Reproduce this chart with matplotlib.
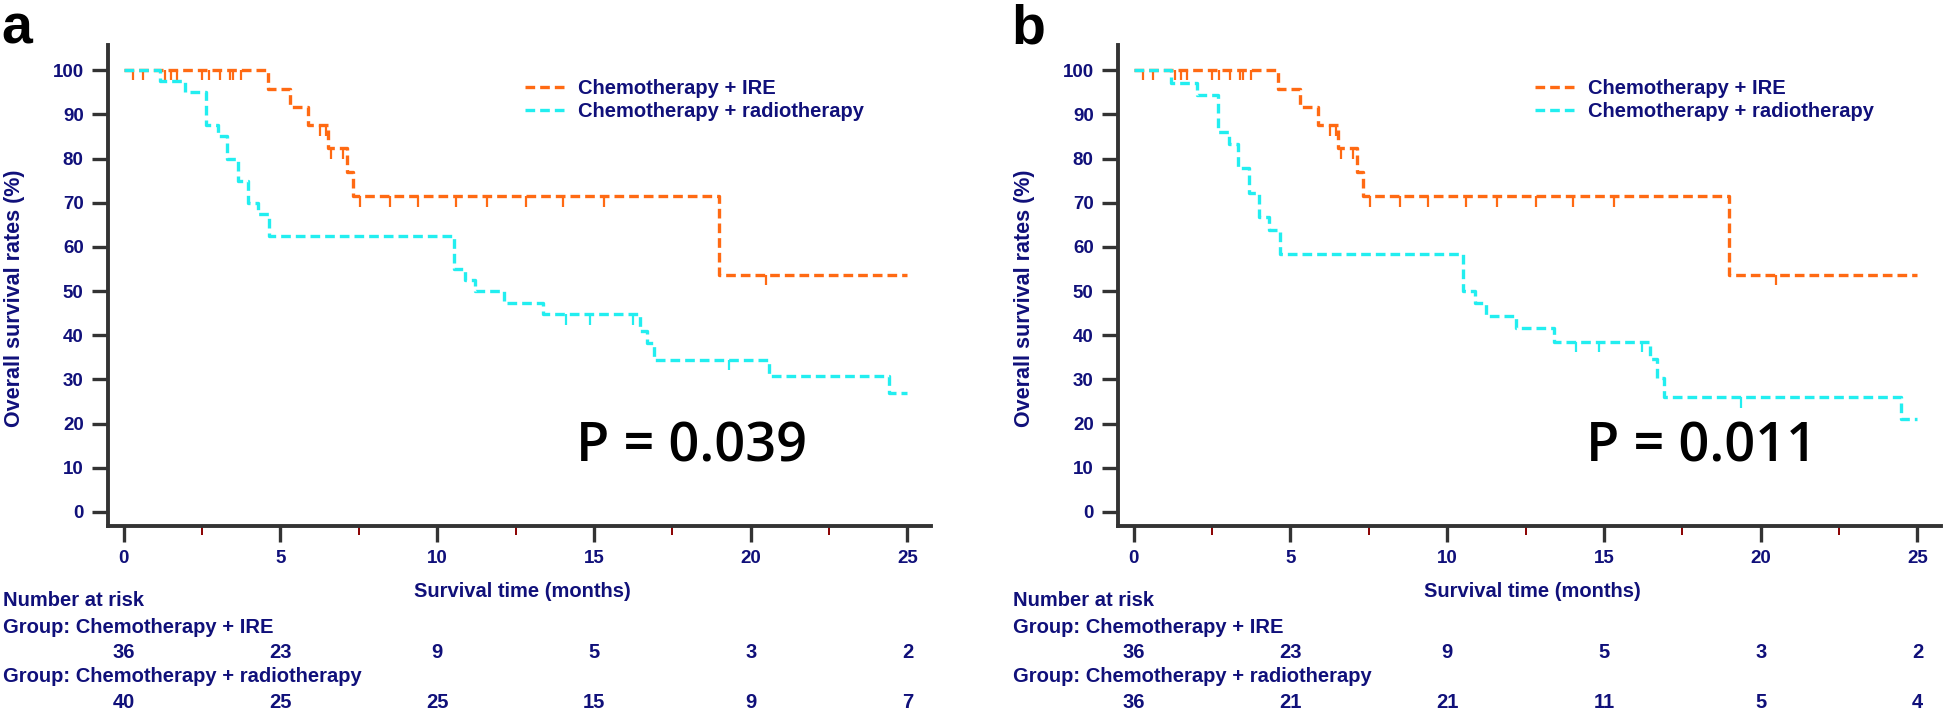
import numpy as np
import matplotlib.pyplot as plt

# number-at-risk time points
risk_months = [0, 5, 10, 15, 20, 25]

# Chemotherapy + IRE (same in both panels)
ire_t = [0, 4.6, 5.3, 5.88, 6.52, 7.12, 7.33, 18.98, 25]
ire_s = [100, 95.8, 91.7, 87.5, 82.3, 77.0, 71.4, 53.6, 53.6]
ire_cens = [0.29, 0.61, 1.32, 1.52, 1.70, 2.49, 2.72, 3.06, 3.38, 3.49, 3.74,
            6.26, 6.45, 6.6, 7.0, 7.55, 8.48, 9.39, 10.59, 11.6, 12.83, 14.0,
            15.32, 20.48]
ire_risk = [36, 23, 9, 5, 3, 2]

# Chemotherapy + radiotherapy, panel a
rad_a_t = [0, 1.15, 1.95, 2.63, 3.02, 3.31, 3.66, 3.95, 4.30, 4.62, 10.52, 10.9,
           11.2, 12.14, 13.38, 16.46, 16.68, 16.9, 20.58, 24.42, 25]
rad_a_s = [100, 97.5, 95.0, 87.5, 85.0, 80.0, 75.0, 70.0, 67.5, 62.5, 55.0, 52.5,
           50.0, 47.2, 44.7, 41.0, 38.2, 34.4, 30.7, 26.9, 26.9]
rad_a_cens = [14.1, 14.88, 16.25, 19.32]
rad_a_risk = [40, 25, 25, 15, 9, 7]

# Chemotherapy + radiotherapy, panel b
rad_b_t = [0, 1.18, 2.02, 2.69, 3.05, 3.34, 3.68, 3.99, 4.32, 4.66, 10.51, 10.9,
           11.24, 12.19, 13.42, 16.47, 16.7, 16.9, 24.47, 25]
rad_b_s = [100, 97.2, 94.4, 86.1, 83.3, 77.8, 72.2, 66.7, 63.9, 58.3, 50.0, 47.2,
           44.4, 41.7, 38.5, 34.5, 30.3, 25.9, 21.0, 21.0]
rad_b_cens = [14.11, 14.84, 16.2, 19.36]
rad_b_risk = [36, 21, 21, 11, 5, 4]

ORANGE = '#ff6a13'
CYAN = '#22eef0'
NAVY = '#10107a'
AXC = '#333333'
SANS = 'Liberation Sans'
W, H = 1946, 712

fig = plt.figure(figsize=(W / 100, H / 100), dpi=100)


def level(t, s, c):
    idx = np.searchsorted(t, c, side='right') - 1
    return np.asarray(s)[idx]


def panel(x0, letter, rad_t, rad_s, rad_cens, rad_risk, pval):
    ax = fig.add_axes([(x0 + 108) / W, 186 / H, 823 / W, 481 / H])
    ax.set_xlim(-0.5, 25.75)
    ax.set_ylim(-3.2, 105.7)

    for t, s, cens, col, lab in [
            (ire_t, ire_s, ire_cens, ORANGE, 'Chemotherapy + IRE'),
            (rad_t, rad_s, rad_cens, CYAN, 'Chemotherapy + radiotherapy')]:
        ax.step(t, s, where='post', color=col, lw=2.4, dashes=(2.9, 1.5),
                label=lab)
        lv = level(t, s, cens)
        ax.vlines(cens, lv - 2.3, lv, colors=col, lw=1.6)

    for side in ['top', 'right']:
        ax.spines[side].set_visible(False)
    for side in ['left', 'bottom']:
        ax.spines[side].set_color(AXC)
        ax.spines[side].set_linewidth(2.8)

    ax.set_yticks(range(0, 101, 10))
    ax.set_xticks(risk_months)
    ax.set_xticks([2.5, 7.5, 12.5, 17.5, 22.5], minor=True)
    ax.tick_params(axis='both', which='major', direction='out', length=11.5,
                   width=2.4, color=AXC, labelcolor=NAVY, labelsize=13.5)
    ax.tick_params(axis='y', pad=6)
    ax.tick_params(axis='x', pad=6)
    ax.tick_params(axis='x', which='minor', direction='out', length=6.5,
                   width=1.4, color='#8b0000')
    for lbl in ax.get_xticklabels() + ax.get_yticklabels():
        lbl.set_family(SANS)
        lbl.set_fontweight('bold')

    ax.text(-0.114, 0.474, 'Overall survival rates (%)', transform=ax.transAxes,
            rotation=90, ha='center', va='center', fontsize=15.5, color=NAVY,
            family=SANS, fontweight='bold')
    ax.text(0.503, -0.137, 'Survival time (months)', transform=ax.transAxes,
            ha='center', va='center', fontsize=14.5, color=NAVY,
            family=SANS, fontweight='bold')

    ax.legend(loc='upper left', bbox_to_anchor=(0.507, 0.930),
              frameon=False, borderpad=0, borderaxespad=0,
              handlelength=1.9, handletextpad=0.72, labelspacing=0.22,
              prop={'family': SANS, 'size': 14.5, 'weight': 'bold'},
              labelcolor=NAVY)

    ax.text(18.1, 14.5, pval, ha='center', va='center', fontsize=39,
            family='Open Sans', fontweight='semibold', color='black')

    tr = ax.get_xaxis_transform()
    kw = dict(transform=tr, va='center', color=NAVY, fontsize=14.5,
              family=SANS, fontweight='bold')
    ax.text(-3.86, -0.154, 'Number at risk', ha='left', **kw)
    ax.text(-3.86, -0.210, 'Group: Chemotherapy + IRE', ha='left', **kw)
    ax.text(-3.86, -0.312, 'Group: Chemotherapy + radiotherapy', ha='left', **kw)
    for m, n1, n2 in zip(risk_months, ire_risk, rad_risk):
        ax.text(m, -0.262, str(n1), ha='center', **kw)
        ax.text(m, -0.366, str(n2), ha='center', **kw)

    fig.text((x0 + 1) / W, 1 - 4 / H, letter, ha='left', va='top', fontsize=40,
             fontweight='bold', family=SANS)
    return ax


panel(0, 'a', rad_a_t, rad_a_s, rad_a_cens, rad_a_risk, 'P = 0.039')
panel(1010, 'b', rad_b_t, rad_b_s, rad_b_cens, rad_b_risk, 'P = 0.011')

fig.savefig('out.png', dpi=100)
